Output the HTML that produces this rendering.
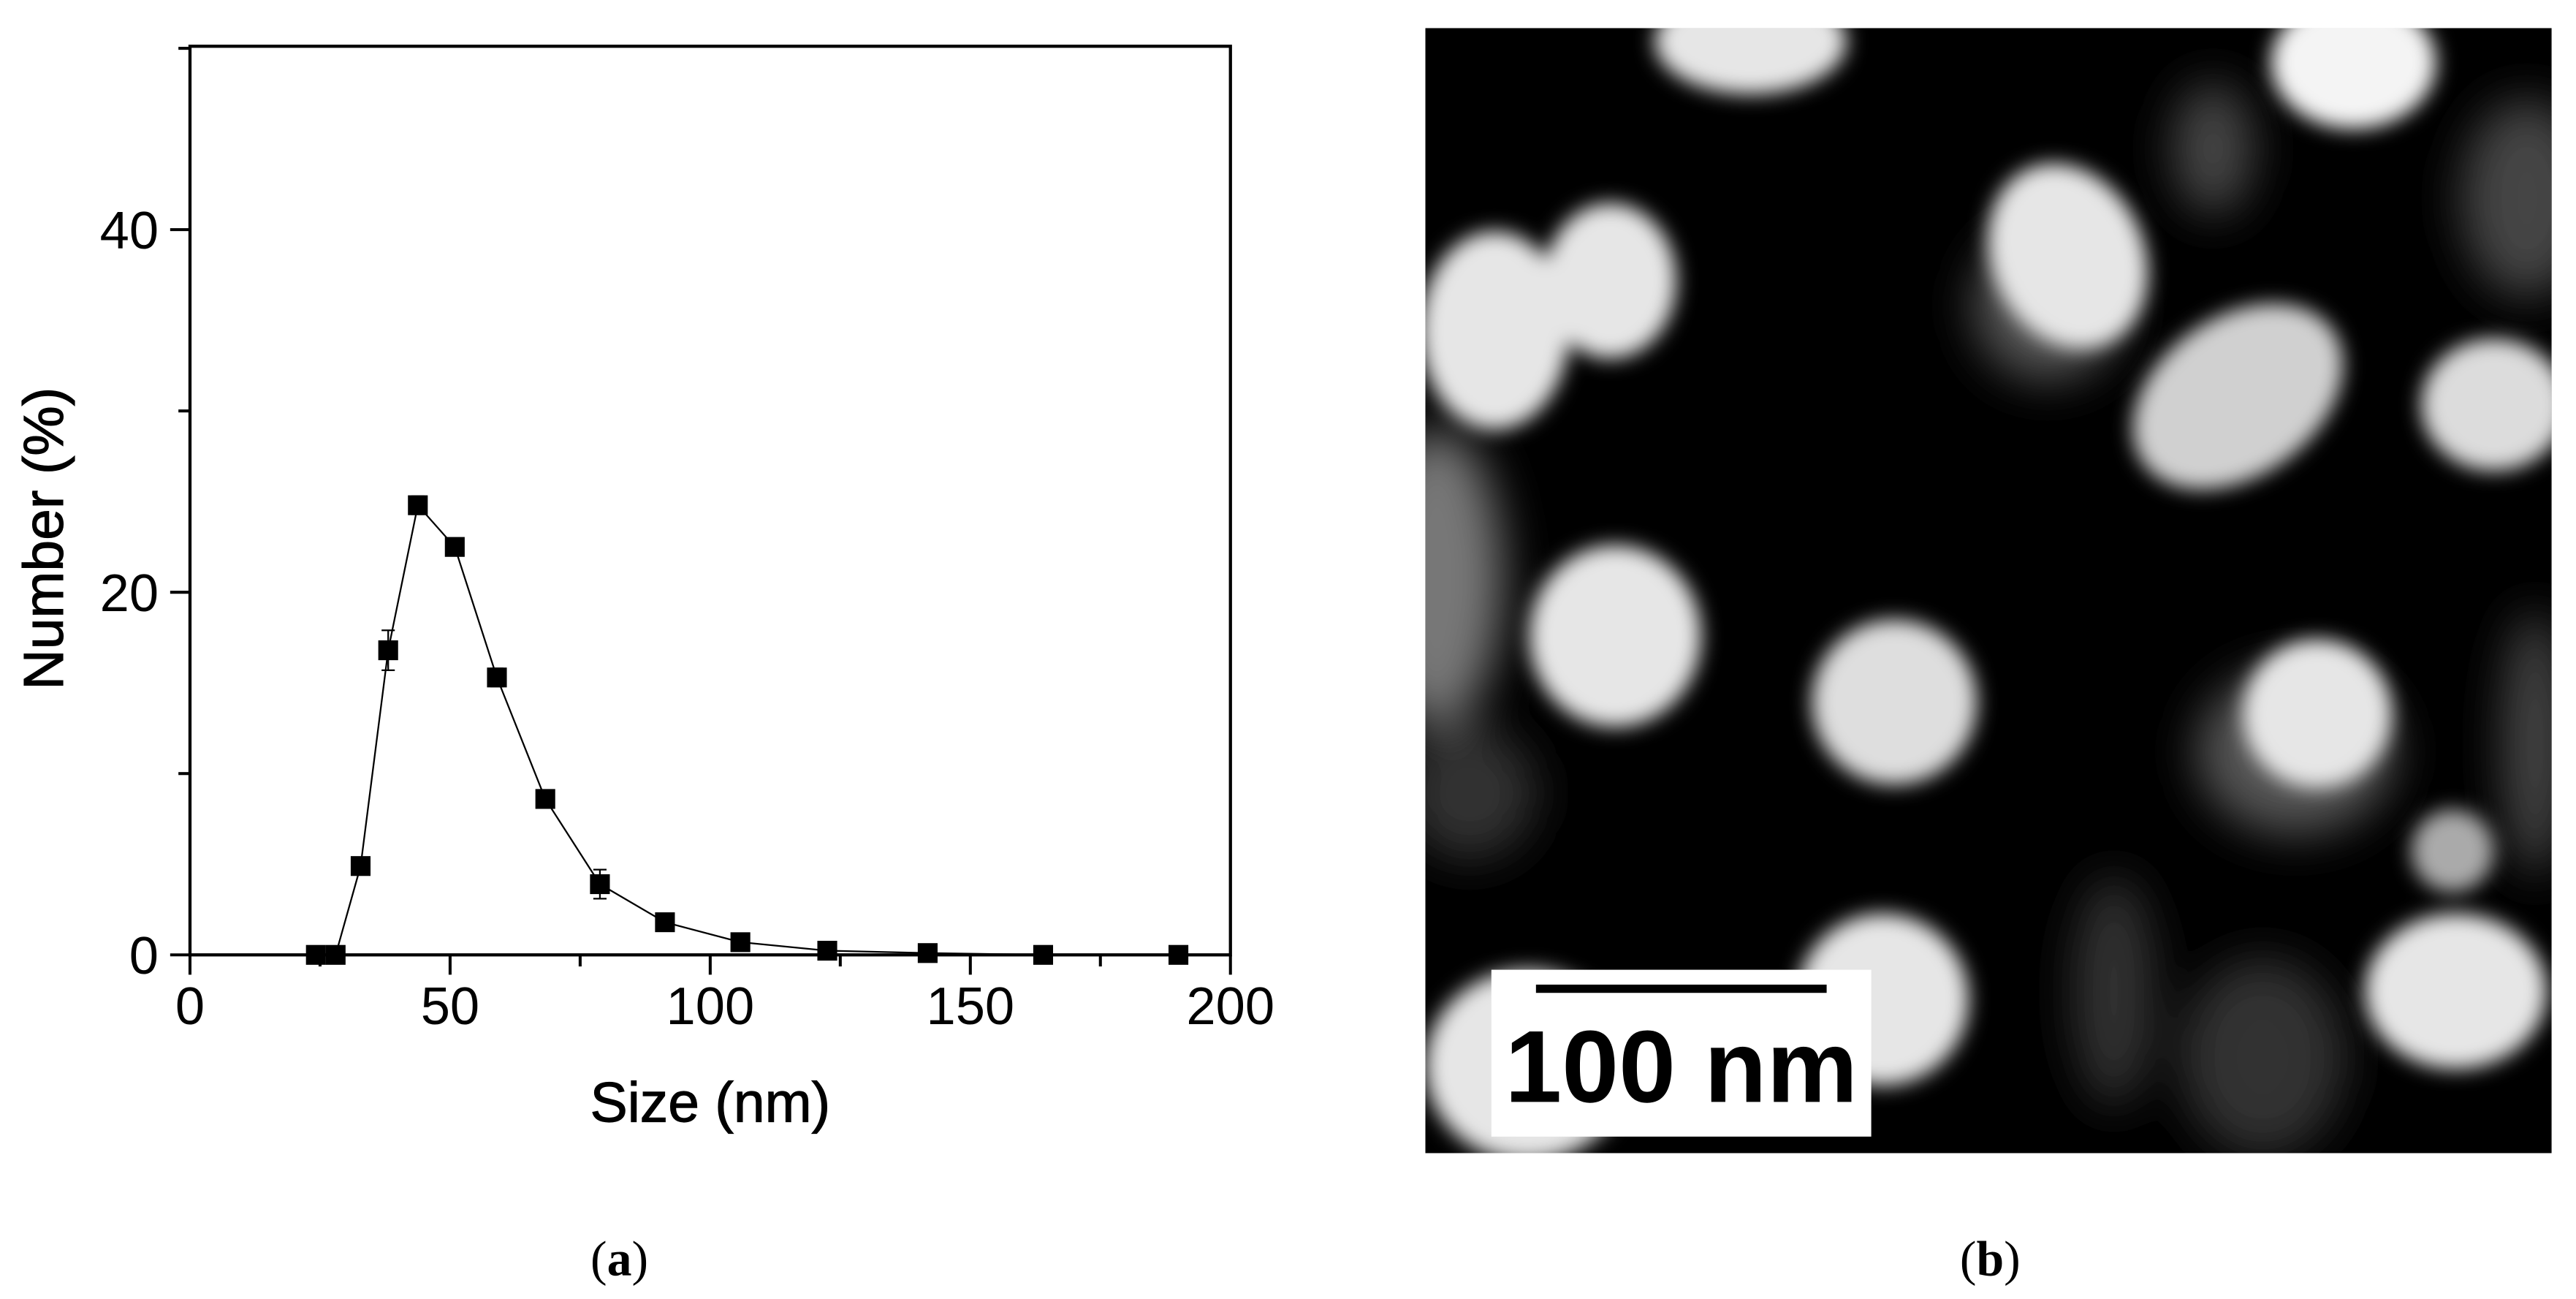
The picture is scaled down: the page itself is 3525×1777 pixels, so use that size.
<!DOCTYPE html>
<html><head><meta charset="utf-8"><style>
html,body{margin:0;padding:0;background:#fff;}
svg{display:block;}
text{font-family:"Liberation Sans",sans-serif;}
</style></head><body>
<svg id="fig" width="3525" height="1777" viewBox="0 0 1559.7 786.3" xmlns="http://www.w3.org/2000/svg">
<defs>
<filter id="blur" x="-50%" y="-50%" width="200%" height="200%"><feGaussianBlur stdDeviation="6"/></filter>
<filter id="blur2" x="-50%" y="-50%" width="200%" height="200%"><feGaussianBlur stdDeviation="14"/></filter>
<clipPath id="imgclip"><rect x="863" y="17" width="682" height="681"/></clipPath>
</defs>
<g id="chart"></g>
<text x="375" y="772" text-anchor="middle" font-size="30" style="font-family:'Liberation Serif',serif">(<tspan font-weight="bold">a</tspan>)</text>

<g clip-path="url(#imgclip)">
<rect x="863" y="17" width="682" height="681" fill="#000"/>
<g filter="url(#blur2)" fill="#555">
<ellipse cx="870" cy="350" rx="40" ry="90" fill="#777"/>
<ellipse cx="1340" cy="90" rx="25" ry="40" fill="#444"/>
<ellipse cx="1530" cy="120" rx="40" ry="60" fill="#444"/>
<ellipse cx="1280" cy="600" rx="25" ry="70" fill="#333"/>
<ellipse cx="1370" cy="640" rx="50" ry="60" fill="#333"/>
<ellipse cx="890" cy="480" rx="40" ry="40" fill="#333"/>
<ellipse cx="1535" cy="450" rx="20" ry="80" fill="#444"/>
<ellipse cx="1390" cy="455" rx="60" ry="50" fill="#555"/>
<ellipse cx="1240" cy="185" rx="45" ry="45" fill="#555"/>
</g>
<g filter="url(#blur)" fill="#e6e6e6">
<ellipse cx="1060" cy="25" rx="58" ry="32"/>
<ellipse cx="1425" cy="38" rx="50" ry="40" fill="#f4f4f4"/>
<ellipse cx="905" cy="200" rx="45" ry="60"/>
<ellipse cx="975" cy="170" rx="40" ry="47"/>
<ellipse cx="1252" cy="155" rx="46" ry="58" transform="rotate(-25 1252 155)"/>
<ellipse cx="1355" cy="240" rx="70" ry="48" transform="rotate(-35 1355 240)" fill="#d0d0d0"/>
<ellipse cx="1510" cy="245" rx="44" ry="40" fill="#dcdcdc"/>
<ellipse cx="978" cy="385" rx="52" ry="55"/>
<ellipse cx="1147" cy="425" rx="50" ry="50" fill="#dedede"/>
<ellipse cx="1403" cy="432" rx="45" ry="45"/>
<ellipse cx="1485" cy="515" rx="25" ry="25" fill="#aaa"/>
<ellipse cx="1487" cy="600" rx="55" ry="47"/>
<ellipse cx="1140" cy="605" rx="52" ry="52"/>
<ellipse cx="925" cy="645" rx="62" ry="58"/>
</g>
</g>
<g>
<rect x="903" y="587" width="230" height="101" fill="#fff"/>
<rect x="930" y="596" width="176" height="5" fill="#000"/>
<text x="1018" y="667" text-anchor="middle" font-size="62" font-weight="bold">100 nm</text>
</g>
<text x="1205" y="772" text-anchor="middle" font-size="30" style="font-family:'Liberation Serif',serif">(<tspan font-weight="bold">b</tspan>)</text>
</svg>
<script>
const sizes=[24.2,28,32.8,38.1,43.8,50.9,59,68.3,78.8,91.3,105.8,122.5,141.8,164,190];
const numbers=[0,0,4.9,16.8,24.8,22.5,15.3,8.6,3.9,1.8,0.7,0.23,0.1,0,0];
const errors=[0,0,0.2,1.1,0.5,0.3,0.5,0.3,0.8,0.2,0.1,0,0,0,0];
const xTicks=[0,50,100,150,200];
const yTicks=[0,20,40];
const NS="http://www.w3.org/2000/svg";
const X0=115,X1=745,Y0=578,YT=28;
const xs=v=>X0+(v/200)*(X1-X0);
const ys=v=>Y0-(v/40)*(Y0-139);
const g=document.getElementById('chart');
function mk(t,a){const e=document.createElementNS(NS,t);for(const k in a)e.setAttribute(k,a[k]);g.appendChild(e);return e;}
const frame=mk('rect',{x:X0,y:YT,width:X1-X0,height:Y0-YT,fill:'none',stroke:'#000','stroke-width':1.9});


for(let v=0;v<=200;v+=25){const maj=v%50===0;const t=mk('line',{x1:xs(v),x2:xs(v),y1:Y0,y2:Y0+(maj?12:7),stroke:'#000','stroke-width':1.8});

}
for(let v=0;v<=50;v+=10){const maj=v%20===0;const t=mk('line',{x1:X0,x2:X0-(maj?12:7),y1:ys(v),y2:ys(v),stroke:'#000','stroke-width':1.8});

}
xTicks.forEach(v=>{const t=mk('text',{x:xs(v),y:620,'text-anchor':'middle','font-size':32});t.textContent=v;

});
yTicks.forEach(v=>{const t=mk('text',{x:96,y:ys(v)+11.5,'text-anchor':'end','font-size':32});t.textContent=v;

});
const xt=mk('text',{x:430,y:679,'text-anchor':'middle','font-size':34,stroke:'#000','stroke-width':0.5});xt.textContent='Size (nm)';


const yt=mk('text',{x:38,y:326,'text-anchor':'middle','font-size':34,stroke:'#000','stroke-width':0.5,transform:'rotate(-90 38 326)'});yt.textContent='Number (%)';


const line=mk('polyline',{points:sizes.map((s,i)=>xs(s)+','+ys(numbers[i])).join(' '),fill:'none',stroke:'#000','stroke-width':1});


sizes.forEach((s,i)=>{
 if(errors[i]>0){const e=mk('path',{d:`M${xs(s)-4},${ys(numbers[i]+errors[i])}h8M${xs(s)},${ys(numbers[i]+errors[i])}V${ys(numbers[i]-errors[i])}M${xs(s)-4},${ys(numbers[i]-errors[i])}h8`,stroke:'#000','stroke-width':1,fill:'none'});
 
 }
 const m=mk('rect',{x:xs(s)-6,y:ys(numbers[i])-6,width:12,height:12,fill:'#000'});
 
 
});
</script>
</body></html>
